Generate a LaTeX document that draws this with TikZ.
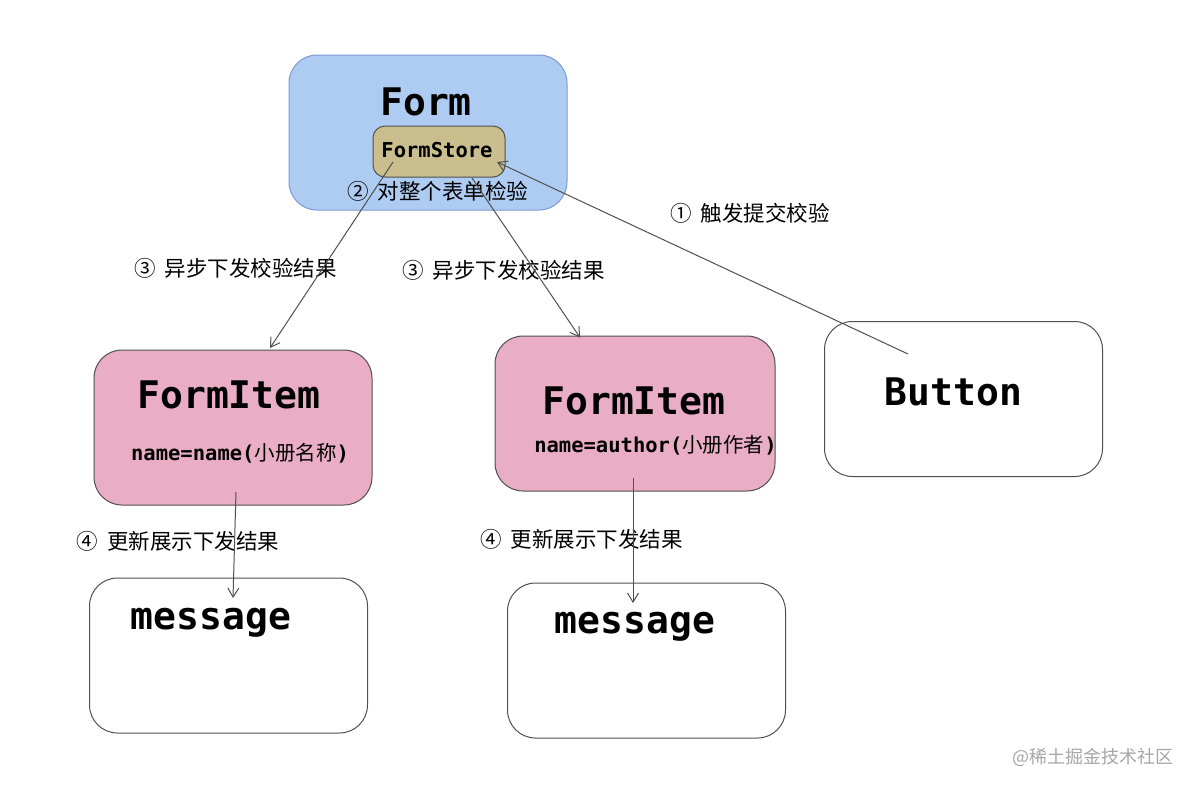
\documentclass[tikz,border=0pt]{standalone}
\usepackage{fontspec}
\setmonofont{DejaVu Sans Mono}
\newfontfamily\cjk{Noto Sans CJK SC}
\usetikzlibrary{arrows.meta,calc}
\definecolor{formblue}{HTML}{AECBF1}
\definecolor{formedge}{HTML}{7D9BD8}
\definecolor{storeolive}{HTML}{CABE8E}
\definecolor{itempink}{HTML}{E9ADC6}
\definecolor{edgegray}{HTML}{505050}
\newcommand{\gap}{\hspace{9pt}}

\begin{document}
\begin{tikzpicture}[x=1pt,y=-1pt,->,>={Straight Barb[length=9pt,width=11pt]},
	line width=1pt, draw=edgegray,
	box/.style={draw=edgegray, rounded corners=28pt, minimum width=278pt, minimum height=155pt, inner sep=0pt},
	title/.style={font=\ttfamily\bfseries\fontsize{38}{44}\selectfont},
	small/.style={font=\ttfamily\bfseries\fontsize{20.5}{24}\selectfont},
	note/.style={font=\cjk\fontsize{21.5}{25}\selectfont}]
\useasboundingbox (0,0) rectangle (1196,788);

\node[box, fill=formblue, draw=formedge](form) at (428,132.5){};
\node[box, fill=storeolive, minimum width=132pt, minimum height=51pt, rounded corners=12pt](store) at (439,151.5){};
\node[box, fill=itempink](itemA) at (233,427.5){};
\node[box, fill=itempink, minimum width=280pt](itemB) at (635,413.5){};
\node[box](button) at (963.5,399){};
\node[box](msgA) at (228.5,655.5){};
\node[box](msgB) at (646.5,660.5){};

\node[title](formT) at (426,102){Form};
\node[small](storeT) at (437,150){FormStore};
\node[title](itemAT) at (229,395){FormItem};
\node[small](nameA) at (240,453){name=name({\cjk\mdseries 小册名称})};
\node[title](itemBT) at (634,401){FormItem};
\node[small](nameB) at (655.5,445){name=author({\cjk\mdseries 小册作者})};
\node[title](buttonT) at (953.5,392){Button};
\node[title](msgAT) at (211,623){message};
\node[title](msgBT) at (635,627){message};

\node[note](check) at (438,191){②\gap 对整个表单检验};
\node[note](submit) at (750,213){①\gap 触发提交校验};
\node[note](sendA) at (235.5,268){③\gap 异步下发校验结果};
\node[note](sendB) at (503.5,270){③\gap 异步下发校验结果};
\node[note](showA) at (178,541){④\gap 更新展示下发结果};
\node[note](showB) at (581.5,539){④\gap 更新展示下发结果};
\node[font=\cjk\fontsize{18}{22}\selectfont, text=gray!70](mark) at (1093,757){@稀土掘金技术社区};

\draw ([xshift=-46pt,yshift=-10.5pt]store.center) -- ([xshift=37pt,yshift=1.5pt]itemA.north);
\draw ([xshift=33pt,yshift=-26.5pt]store.center) -- ([xshift=-55pt,yshift=-2pt]itemB.north);
\draw ([xshift=-55.5pt,yshift=45pt]button.center) -- ([xshift=58pt,yshift=-10.5pt]store.center);
\draw ([xshift=3pt,yshift=-64.5pt]itemA.center) -- ([xshift=4.5pt,yshift=57.5pt]msgA.center);
\draw ([xshift=-2pt,yshift=-64.5pt]itemB.center) -- ([xshift=-13.5pt,yshift=57.5pt]msgB.center);
\end{tikzpicture}
\end{document}
